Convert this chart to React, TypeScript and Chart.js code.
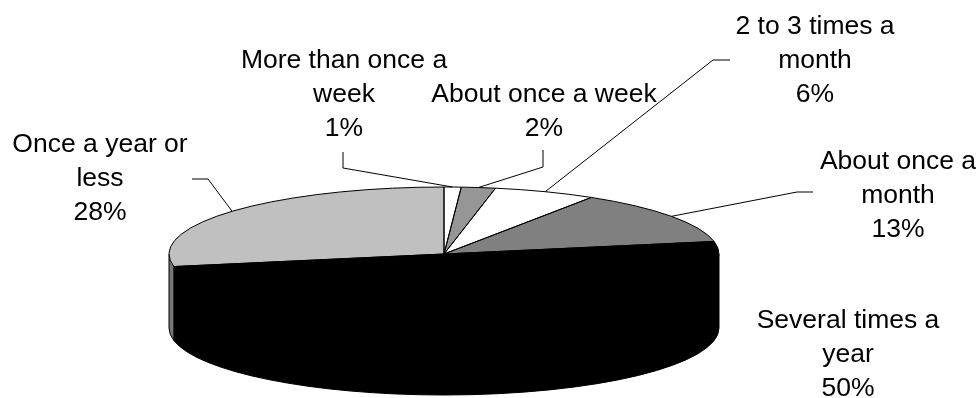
import React, { useEffect, useRef } from "react";
import { Chart, registerables } from "chart.js";

Chart.register(...registerables);

// ---- data ----
const CATEGORIES = [
  "More than once a week",
  "About once a week",
  "2 to 3 times a month",
  "About once a month",
  "Several times a year",
  "Once a year or less",
];
const VALUES = [1, 2, 6, 13, 50, 28];

// ---- styles ----
const TOP_COLORS = ["#ffffff", "#969696", "#ffffff", "#808080", "#000000", "#c0c0c0"];
const WALL_COLORS = ["#bfbfbf", "#5a5a5a", "#bfbfbf", "#4d4d4d", "#000000", "#777777"];

// ---- layout ----
const RX = 275;
const RY = 67;
const DEPTH = 74;
const FONT = "26.5px 'Liberation Sans', Arial, sans-serif";
const LINE_H = 34;
const LABEL_LAYOUT = [
  { x: 344, y: 68, maxW: 230, leader: [[343, 152], [343, 168]] },
  { x: 544, y: 102, maxW: 245, leader: [[543, 150], [543, 167]] },
  { x: 815, y: 34, maxW: 195, leader: [[730, 60], [713, 60]] },
  { x: 898, y: 169, maxW: 195, leader: [[813, 192], [797, 192]] },
  { x: 848, y: 328, maxW: 205, leader: null },
  { x: 100, y: 152, maxW: 205, leader: [[192, 179], [208, 179]] },
];

const K = RY / RX;

function frontSegment(s: number, e: number): [number, number] | null {
  const a = Math.max(s, 0);
  const b = Math.min(e, Math.PI);
  return b > a ? [a, b] : null;
}

function wrap(ctx: CanvasRenderingContext2D, text: string, maxW: number): string[] {
  const words = text.split(" ");
  const lines: string[] = [];
  let cur = "";
  for (const w of words) {
    const t = cur ? cur + " " + w : w;
    if (cur && ctx.measureText(t).width > maxW) {
      lines.push(cur);
      cur = w;
    } else cur = t;
  }
  if (cur) lines.push(cur);
  return lines;
}

const pie3d = {
  id: "pie3d",
  beforeDatasetsDraw(chart: any) {
    const ctx: CanvasRenderingContext2D = chart.ctx;
    const arcs = chart.getDatasetMeta(0).data as any[];
    if (!arcs.length) return;
    const cx = arcs[0].x;
    const cy = arcs[0].y;
    const r = arcs[0].outerRadius;
    // walls fill (includes the wedge under the top face to avoid seams)
    arcs.forEach((arc, i) => {
      const seg = frontSegment(arc.startAngle, arc.endAngle);
      if (!seg) return;
      ctx.save();
      ctx.translate(cx, cy);
      ctx.scale(1, K);
      ctx.beginPath();
      ctx.moveTo(0, 0);
      ctx.lineTo(r * Math.cos(seg[0]), r * Math.sin(seg[0]));
      ctx.lineTo(r * Math.cos(seg[0]), r * Math.sin(seg[0]) + DEPTH / K);
      ctx.arc(0, DEPTH / K, r, seg[0], seg[1]);
      ctx.lineTo(r * Math.cos(seg[1]), r * Math.sin(seg[1]));
      ctx.closePath();
      ctx.restore();
      ctx.fillStyle = WALL_COLORS[i];
      ctx.fill();
      // outline
      ctx.save();
      ctx.translate(cx, cy);
      ctx.scale(1, K);
      ctx.beginPath();
      ctx.moveTo(r * Math.cos(seg[0]), r * Math.sin(seg[0]));
      ctx.lineTo(r * Math.cos(seg[0]), r * Math.sin(seg[0]) + DEPTH / K);
      ctx.arc(0, DEPTH / K, r, seg[0], seg[1]);
      ctx.lineTo(r * Math.cos(seg[1]), r * Math.sin(seg[1]));
      ctx.restore();
      ctx.strokeStyle = "#000";
      ctx.lineWidth = 1;
      ctx.stroke();
    });
    // transform for top faces drawn by chart.js
    ctx.save();
    ctx.translate(cx, cy);
    ctx.scale(1, K);
    ctx.translate(-cx, -cy);
  },
  afterDatasetsDraw(chart: any) {
    const ctx: CanvasRenderingContext2D = chart.ctx;
    ctx.restore();
    const arcs = chart.getDatasetMeta(0).data as any[];
    if (!arcs.length) return;
    const cx = arcs[0].x;
    const cy = arcs[0].y;
    const r = arcs[0].outerRadius;
    arcs.forEach((arc) => {
      ctx.save();
      ctx.translate(cx, cy);
      ctx.scale(1, K);
      ctx.beginPath();
      ctx.moveTo(0, 0);
      ctx.arc(0, 0, r, arc.startAngle, arc.endAngle);
      ctx.closePath();
      ctx.restore();
      ctx.strokeStyle = "#000";
      ctx.lineWidth = 1;
      ctx.stroke();
    });
  },
  afterDraw(chart: any) {
    const ctx: CanvasRenderingContext2D = chart.ctx;
    const arcs = chart.getDatasetMeta(0).data as any[];
    if (!arcs.length) return;
    const cx = arcs[0].x;
    const cy = arcs[0].y;
    const r = arcs[0].outerRadius;
    const total = VALUES.reduce((a, b) => a + b, 0);
    ctx.save();
    ctx.font = FONT;
    ctx.fillStyle = "#000";
    ctx.textAlign = "center";
    ctx.textBaseline = "alphabetic";
    arcs.forEach((arc, i) => {
      const L = LABEL_LAYOUT[i];
      const lines = wrap(ctx, CATEGORIES[i], L.maxW);
      lines.push(Math.round((VALUES[i] / total) * 100) + "%");
      lines.forEach((t, j) => ctx.fillText(t, L.x, L.y + j * LINE_H));
      if (L.leader) {
        const m = (arc.startAngle + arc.endAngle) / 2;
        const px = cx + r * Math.cos(m);
        const py = cy + K * r * Math.sin(m);
        ctx.beginPath();
        ctx.moveTo(L.leader[0][0], L.leader[0][1]);
        ctx.lineTo(L.leader[1][0], L.leader[1][1]);
        ctx.lineTo(px, py);
        ctx.strokeStyle = "#000";
        ctx.lineWidth = 1;
        ctx.stroke();
      }
    });
    ctx.restore();
  },
};

export default function App() {
  const ref = useRef<HTMLCanvasElement | null>(null);
  useEffect(() => {
    if (!ref.current) return;
    const chart = new Chart(ref.current, {
      type: "pie",
      data: {
        labels: CATEGORIES,
        datasets: [
          {
            data: VALUES,
            backgroundColor: TOP_COLORS,
            borderWidth: 0,
            radius: RX,
            clip: false,
          } as any,
        ],
      },
      options: {
        responsive: false,
        animation: false,
        devicePixelRatio: 1,
        layout: { padding: { left: 0, right: 92, top: 110, bottom: 0 } },
        plugins: { legend: { display: false }, tooltip: { enabled: false } },
        events: [],
      },
      plugins: [pie3d],
    });
    return () => chart.destroy();
  }, []);
  return (
    <div style={{ position: "absolute", left: 0, top: 0, width: 980, height: 398, background: "#fff" }}>
      <canvas ref={ref} width={980} height={398} style={{ width: 980, height: 398 }} />
    </div>
  );
}
